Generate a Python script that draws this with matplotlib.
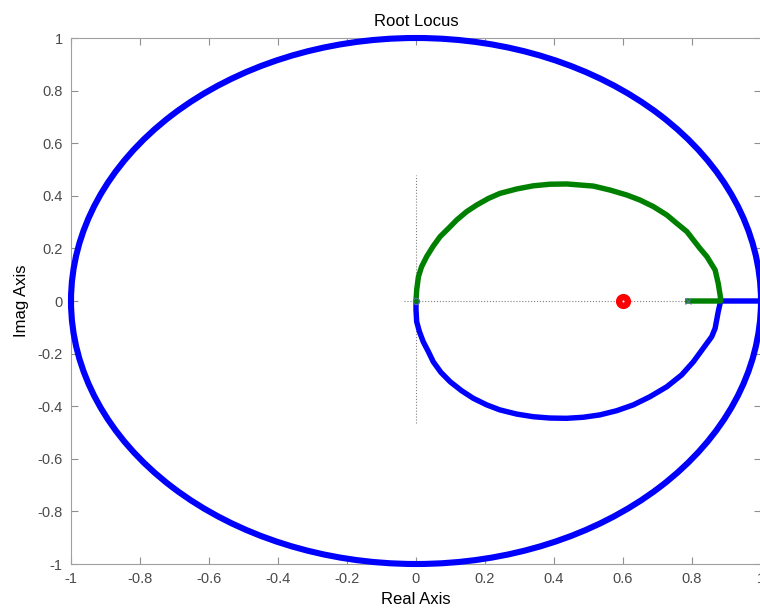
import matplotlib
matplotlib.use("Agg")
import matplotlib.pyplot as plt
from matplotlib.patches import Circle
from matplotlib.ticker import FuncFormatter

# ---- data ----
unit_circle_radius = 1.0
unit_circle_center = (0.0, 0.0)

green_x = [0.788, 0.883, 0.883, 0.876, 0.867, 0.843, 0.823, 0.804, 0.785, 0.756, 0.727,
           0.688, 0.649, 0.611, 0.562, 0.514, 0.437, 0.388, 0.340, 0.292, 0.243, 0.210,
           0.176, 0.147, 0.118, 0.094, 0.070, 0.050, 0.031, 0.016, 0.007, 0.002, 0.0]
green_y = [0.0, 0.0, 0.010, 0.067, 0.118, 0.169, 0.200, 0.232, 0.264, 0.295, 0.327,
           0.359, 0.384, 0.403, 0.422, 0.437, 0.445, 0.444, 0.438, 0.426, 0.409, 0.390,
           0.365, 0.340, 0.308, 0.276, 0.245, 0.209, 0.169, 0.130, 0.092, 0.042, 0.0]

blue_x = [0.0, 0.0, 0.002, 0.010, 0.021, 0.036, 0.050, 0.072, 0.099, 0.132, 0.166, 0.205,
          0.243, 0.292, 0.340, 0.388, 0.437, 0.485, 0.533, 0.582, 0.630, 0.678, 0.727,
          0.770, 0.804, 0.843, 0.857, 0.867, 0.876, 0.883, 1.0]
blue_y = [0.0, -0.034, -0.079, -0.117, -0.155, -0.193, -0.231, -0.271, -0.307, -0.341,
          -0.370, -0.395, -0.414, -0.430, -0.440, -0.445, -0.446, -0.442, -0.433, -0.417,
          -0.395, -0.364, -0.326, -0.281, -0.231, -0.161, -0.136, -0.104, -0.041, 0.0, 0.0]

poles_x = [0.0, 0.788]
poles_y = [0.0, 0.0]
zeros_x = [0.6]
zeros_y = [0.0]

hline_x = [-0.035, 0.883]
vline_y = [-0.464, 0.479]

xticks = [-1, -0.8, -0.6, -0.4, -0.2, 0, 0.2, 0.4, 0.6, 0.8, 1]
yticks = [-1, -0.8, -0.6, -0.4, -0.2, 0, 0.2, 0.4, 0.6, 0.8, 1]

plt.rcParams['font.family'] = ['Liberation Sans', 'DejaVu Sans']

fig = plt.figure(figsize=(7.6, 6.13), dpi=100)
ax = fig.add_axes([71/760, 49/613, 690/760, 526/613])

# dotted axis lines
ax.plot(hline_x, [0, 0], linestyle=':', color='#808080', linewidth=0.8, zorder=1)
ax.plot([0, 0], vline_y, linestyle=':', color='#808080', linewidth=0.8, zorder=1)

# unit circle
circ = Circle(unit_circle_center, unit_circle_radius, fill=False, edgecolor='#0000ff',
              linewidth=4.4, zorder=3, clip_on=False)
ax.add_patch(circ)

ax.plot(blue_x, blue_y, color='#0000ff', linewidth=3.9, zorder=3,
        solid_joinstyle='round', solid_capstyle='round')
ax.plot(green_x, green_y, color='#008000', linewidth=3.9, zorder=4,
        solid_joinstyle='round')

# poles and zeros
ax.plot(poles_x[1:], poles_y[1:], linestyle='none', marker='x', markersize=5,
        markeredgewidth=0.8, color='#5a6e9a', zorder=5)
ax.plot(poles_x[:1], poles_y[:1], linestyle='none', marker='o', markersize=4.5,
        markerfacecolor='none', markeredgewidth=0.8, markeredgecolor='#5a6e9a', zorder=5)
ax.plot(zeros_x, zeros_y, linestyle='none', marker='o', markersize=6.3,
        markeredgewidth=4.6, markerfacecolor='white', markeredgecolor='#ff0000', zorder=6)

ax.set_xlim(-1, 1)
ax.set_ylim(-1, 1)
ax.set_xticks(xticks)
ax.set_yticks(yticks)
fmt = FuncFormatter(lambda v, p: '%g' % round(v, 2))
ax.xaxis.set_major_formatter(fmt)
ax.yaxis.set_major_formatter(fmt)

ax.tick_params(direction='in', length=5, width=0.8, colors='#909090',
               labelcolor='#4a4a4a', labelsize=10.5, top=True, right=True, pad=6)
for s in ax.spines.values():
    s.set_color('#a0a0a0')
    s.set_linewidth(0.8)

ax.set_title('Root Locus', fontsize=12, pad=9)
ax.set_xlabel('Real Axis', fontsize=12, labelpad=4)
ax.set_ylabel('Imag Axis', fontsize=12, labelpad=6)

fig.savefig('out.png', dpi=100)
